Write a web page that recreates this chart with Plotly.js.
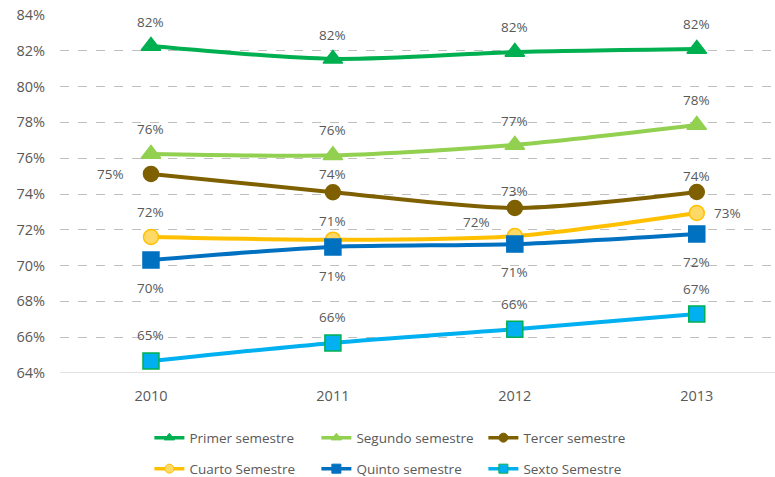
<!DOCTYPE html>
<html><head><meta charset="utf-8">
<script src="https://cdn.plot.ly/plotly-3.0.1.min.js"></script>
<style>html,body{margin:0;padding:0;background:#fff}#chart{width:775px;height:477px}</style>
</head><body><div id="chart"></div>
<script>
var years = ['2010', '2011', '2012', '2013'];
var seriesNames = ['Primer semestre', 'Segundo semestre', 'Tercer semestre', 'Cuarto Semestre', 'Quinto semestre', 'Sexto Semestre'];
var primer = [82.27, 81.55, 81.93, 82.1];
var segundo = [76.23, 76.16, 76.74, 77.85];
var tercer = [75.12, 74.1, 73.22, 74.11];
var cuarto = [71.6, 71.45, 71.65, 72.94];
var quinto = [70.31, 71.04, 71.2, 71.77];
var sexto = [64.67, 65.68, 66.45, 67.3];
var yTicks = [64, 66, 68, 70, 72, 74, 76, 78, 80, 82, 84];

var allValues = [primer, segundo, tercer, cuarto, quinto, sexto];
var styles = [
  {line: '#00B050', fill: '#00B050', edge: '#00B050', symbol: 'triangle-up', size: 17},
  {line: '#92D050', fill: '#92D050', edge: '#92D050', symbol: 'triangle-up', size: 17},
  {line: '#7F6000', fill: '#7F6000', edge: '#7F6000', symbol: 'circle', size: 15},
  {line: '#FFC000', fill: '#FFD966', edge: '#FFC000', symbol: 'circle', size: 15},
  {line: '#0070C0', fill: '#0070C0', edge: '#0070C0', symbol: 'square', size: 16},
  {line: '#00B0F0', fill: '#00B0F0', edge: '#00B050', symbol: 'square', size: 16}
];
var offsets = [
  [[0,24],[0,24],[0,25],[0,25]],
  [[0,25],[0,25],[0,24],[0,25]],
  [[-40,0],[0,18],[0,17],[0,16]],
  [[0,25],[0,19],[-38,14],[31,0]],
  [[0,-28],[0,-29],[0,-28],[0,-28]],
  [[0,26],[0,26],[0,25],[0,25]]
];

var textColor = '#595959';
var font = 'Open Sans, Noto Sans, sans-serif';
var traces = [];
var legendTraces = [];
var annotations = [];
allValues.forEach(function(vals, i) {
  var s = styles[i];
  traces.push({
    type: 'scatter', mode: 'lines+markers', name: seriesNames[i],
    x: years, y: vals, showlegend: false,
    line: {color: s.line, width: 4, shape: 'spline', smoothing: 0.8},
    marker: {symbol: s.symbol, size: s.size, color: s.fill, line: {color: s.edge, width: 1.5}},
    cliponaxis: false, hoverinfo: 'skip'
  });
  legendTraces.push({
    type: 'scatter', mode: 'lines+markers', name: seriesNames[i],
    x: [null], y: [null], showlegend: true,
    legend: i < 3 ? 'legend' : 'legend2',
    line: {color: s.line, width: 3.5},
    marker: {symbol: s.symbol, size: 9, color: s.fill, line: {color: s.edge, width: 1}},
    hoverinfo: 'skip'
  });
  vals.forEach(function(v, j) {
    annotations.push({
      x: j, y: v, xref: 'x', yref: 'y', text: Math.round(v) + '%',
      showarrow: false, xshift: offsets[i][j][0], yshift: offsets[i][j][1],
      font: {family: font, size: 13.5, color: textColor}
    });
  });
});

var legendBase = {
  orientation: 'h', x: 0.125, xanchor: 'left', yref: 'container', yanchor: 'middle',
  entrywidth: 122, font: {family: font, size: 13.5, color: textColor},
  itemsizing: 'trace', bgcolor: 'rgba(0,0,0,0)'
};
var layout = {
  width: 775, height: 477,
  margin: {l: 60, r: 0, t: 15, b: 104},
  paper_bgcolor: '#fff', plot_bgcolor: '#fff',
  showlegend: true,
  font: {family: font, size: 13, color: textColor},
  xaxis: {
    type: 'category', range: [-0.5, 3.43], showgrid: false, zeroline: false,
    showline: false, ticks: '', tickfont: {family: font, size: 14.5, color: textColor},
    ticklabelstandoff: 12, automargin: false
  },
  yaxis: {
    range: [64, 84], tickvals: yTicks, ticktext: yTicks.map(function(t){return t + '%';}),
    showgrid: true, gridcolor: '#BFBFBF', griddash: 'dash', gridwidth: 1,
    zeroline: false, showline: false, ticks: '', automargin: false,
    tickfont: {family: font, size: 14.5, color: textColor}, ticklabelstandoff: 14
  },
  legend: Object.assign({}, legendBase, {y: 0.082}),
  legend2: Object.assign({}, legendBase, {y: 0.017}),
  shapes: [{type: 'line', xref: 'paper', yref: 'y', x0: 0, x1: 1, y0: 64, y1: 64, line: {color: '#D9D9D9', width: 1.5}, layer: 'below'}],
  annotations: annotations
};
Plotly.newPlot('chart', traces.concat(legendTraces), layout, {displayModeBar: false, staticPlot: true});
</script></body></html>
